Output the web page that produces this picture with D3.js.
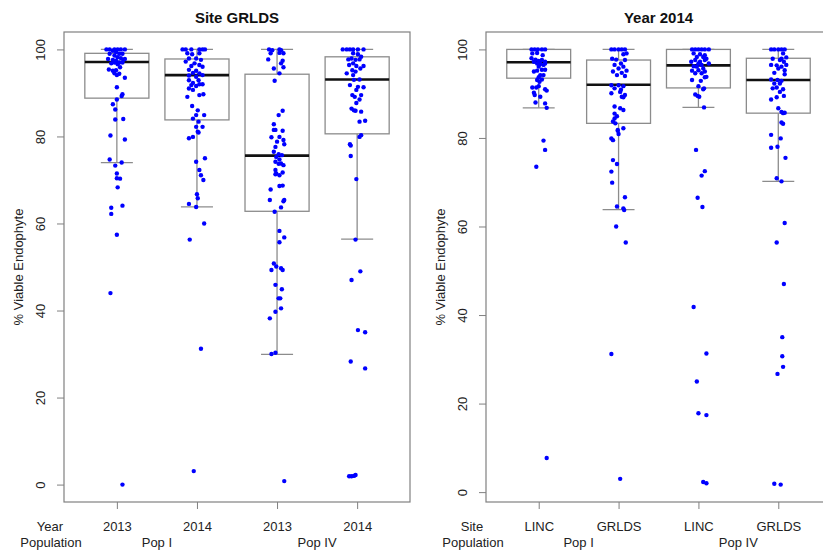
<!DOCTYPE html>
<html>
<head>
<meta charset="utf-8">
<script src="https://cdn.jsdelivr.net/npm/d3@7"></script>
<style>
  body { margin: 0; background: #fff; }
  text { font-family: "Liberation Sans", Arial, sans-serif; }
</style>
</head>
<body>
<script>
//Global variables
    const width = 823;
    const height = 554;
    const plotTop = 32;
    const plotBottom = 502;

//Data: categories and labels
    const yearLabels = ["2013", "2014", "2013", "2014"];
    const siteLabels = ["LINC", "GRLDS", "LINC", "GRLDS"];
    const popLabels = ["Pop I", "Pop IV"];
    const yTicks = [0, 20, 40, 60, 80, 100];

    //Box stats: [lower whisker, q1, median, q3, upper whisker]
    const siteGrldsStats = [
        [74.0, 88.8, 97.1, 99.1, 100],
        [63.8, 83.8, 94.1, 97.8, 100],
        [29.9, 62.8, 75.6, 94.3, 100],
        [56.4, 80.6, 93.1, 98.3, 100]
    ];
    const year2014Stats = [
        [86.8, 93.5, 97.1, 100, 100],
        [63.8, 83.3, 92.0, 97.6, 100],
        [86.9, 91.3, 96.4, 100, 100],
        [70.2, 85.6, 93.1, 98.0, 100]
    ];

    //Points: [value, jitter in category units]
    const grlds2013PopI = [[100,-0.13],[100,-0.09],[100,-0.03],[100,0.01],[100,0.05],[100,0.1],[99.7,-0.05],[99.4,-0.01],[99,-0.09],[99,0.03],[99,0.07],[98.6,-0.03],[98.2,0.01],[98,0.05],[97.8,-0.11],[97.6,-0.05],[97.4,-0.01],[97.6,0.08],[97,0.03],[96.8,-0.07],[97,-0.03],[97,0.07],[96.6,0.01],[97.8,0.1],[95.9,0.04],
        [95.4,-0.1],[95.1,-0.05],[95.2,-0.01],[94.5,-0.03],[94.4,0.03],[94.1,0],[93.5,0.1],[91.3,0],[89.7,0.07],[89.3,0.06],[88.5,0],[87.4,-0.05],[86.2,-0.02],[83.9,-0.02],[84,0.08],[80.2,-0.08],[79.3,0.1],[74.7,-0.09],[73.3,-0.02],[74,0.06],[71.5,0],[70.4,0],[70.3,0.04],[68.3,0.01],[64.1,0.07],[63.6,-0.07],[62.2,-0.07],[57.4,0],[44,-0.08],[0,0.07]];
    const grlds2014PopI = [[100,-0.18],[100,-0.14],[100,-0.07],[100,0.03],[100,0.07],[100,0.1],[99.1,-0.12],[98.9,-0.06],[99.1,0.03],[97.9,-0.1],[97.9,-0.01],[97.6,0.05],[97.2,-0.14],[96.8,-0.03],[96.4,0.03],[96.2,-0.07],[96,0.07],[95.3,-0.1],[95.1,-0.01],[94.6,-0.05],[94.5,0.03],[94,-0.1],[94.1,0.07],[93.7,-0.01],[92.9,-0.1],[92.9,0.02],[92.3,-0.05],[92,0.03],[91.8,-0.07],[91.6,-0.01],[92,0.07],[91,-0.1],[90.7,-0.05],[89.1,-0.12],[89.5,0.03],[89.7,0.08],
        [87,-0.06],[86,0.01],[84.9,-0.01],[84.9,0.09],[84.1,-0.05],[83.4,0.02],[82.2,-0.01],[82.2,0.07],[81.1,0.01],[79.6,-0.1],[79.9,-0.05],[80.9,0.02],[74.2,-0.01],[75,0.1],[72.3,0.03],[71.1,0.05],[70,0.08],[66.7,0],[65.8,0.01],[63.8,-0.01],[64.5,-0.1],[60,0.09],[56.3,-0.09],[31.2,0.05],[3.1,-0.04]];
    const grlds2013PopIV = [[100,-0.1],[99.8,-0.06],[100,0.03],[99.8,0.05],[99.1,-0.08],[99.2,0.03],[99.1,0.08],[97.7,-0.11],[97.4,0.07],[96.8,0.05],[95.6,-0.04],[95.9,0.08],[94.5,0.03],[92.8,-0.03],[85.9,0.07],[84.9,0.02],[82.8,-0.04],[81.5,-0.02],[81.3,0.07],[81.5,-0.04],[79.8,-0.07],[79.9,0.03],[79.2,0.08],[78.8,0],[77.6,-0.02],[78.2,0.09],[76.5,-0.04],[75.9,0.02],[75.7,0.06],[75.3,-0.01],[74.7,0.03],[74.2,-0.02],[73.8,0.05],[73.7,0.02],[73.4,0.08],[72.3,-0.02],[71.5,-0.01],[71.7,0.07],[71.1,0.03],[71.3,-0.02],
        [67.8,-0.08],[68.7,0.07],[68.6,0.03],[65.4,-0.09],[65.4,0.09],[65.1,0.08],[63.7,0.05],[62.7,-0.03],[58.3,0.03],[56.8,0.09],[55.7,0.03],[50.8,-0.04],[50.1,-0.01],[49.7,0.05],[49.3,-0.07],[49.3,0.07],[45.9,-0.02],[44.9,0.06],[42.8,0.02],[42.8,0.04],[39.7,-0.02],[40.5,0.05],[38.2,-0.09],[30.3,-0.02],[30,-0.07],[0.8,0.09]];
    const grlds2014PopIV = [[100,-0.18],[100,-0.13],[100,-0.09],[100,-0.05],[100,0.01],[100,0.08],[99.1,-0.05],[98.9,0.01],[98.3,0.05],[97.9,-0.07],[97.7,-0.11],[97.6,-0.02],[97.7,0.03],[96.8,-0.05],[96.4,-0.1],[96.2,-0.01],[96.2,0.08],[95.6,0.04],[95.2,-0.06],[94.9,-0.02],[94.5,-0.13],[94.1,-0.05],[93.1,0.03],[93,-0.04],[91.8,-0.09],[91.4,0.01],[91.3,0.08],[90.7,-0.01],[89.5,-0.06],[89.5,0.05],[89.1,-0.03],[88.5,0.03],[87.7,-0.01],
        [86.4,-0.07],[86,-0.04],[85.9,-0.02],[85.7,0.05],[83.4,0.03],[83.6,0.1],[80.3,0.05],[79.9,0.03],[78.2,-0.09],[77.9,-0.08],[75.5,-0.08],[70.2,-0.01],[56.3,-0.02],[49,0.04],[47,-0.07],[35.5,0.01],[35,0.1],[28.3,-0.08],[26.7,0.1],[1.9,-0.1],[1.9,-0.07],[2,-0.04],[2.2,-0.02]];

    const linc2014PopI = [[100,-0.09],[100,-0.05],[100,-0.01],[100,0.04],[100,0.08],[99.1,-0.08],[99.2,-0.02],[98.7,0.05],[98,-0.09],[97.7,-0.04],[97.4,0],[97.6,0.04],[97.2,0.08],[97.2,-0.06],[96.8,-0.02],[96.7,0.02],[96.5,0.06],[96.8,0.08],[96.1,0],[95.4,0.04],[95.2,-0.02],[95,-0.06],[95.4,0.08],[94.2,0.02],[94.2,0.06],[93.7,0],[93.1,-0.02],[93.2,0.04],[92.7,0.01],
        [91.4,-0.08],[91.4,-0.03],[91.7,0],[91,0.08],[90.7,0.1],[90.2,-0.06],[89.7,-0.05],[89.3,0.02],[88,-0.04],[87.8,0.08],[86.8,0.1],[79.4,0.06],[77.3,0.08],[73.5,-0.03],[7.7,0.1]];
    const grlds2014PopIb = [[100,-0.09],[100,-0.05],[100,0],[100,0.04],[100,0.08],[99.1,0.1],[98.9,0.06],[97.9,-0.08],[97.7,-0.03],[97.6,0.08],[96.8,0.03],[96.5,-0.05],[96.1,0.06],[95.7,0],[95.2,0.1],[95,-0.07],[94.7,0.04],[94.2,-0.02],[94,0.08],[91.9,-0.09],[91.9,0],[91.7,0.06],[91.2,-0.05],[90.9,0.03],[90.4,0.02],[90.1,-0.09],[89.7,0.08],[89.3,0.04],[89.2,0.06],
        [87.1,-0.05],[86.7,0.02],[86.3,0.06],[85.5,-0.05],[84.9,-0.02],[84.4,-0.05],[83.7,-0.07],[83.3,-0.04],[82.2,0.06],[81.8,-0.01],[81.6,-0.01],[80.9,0],[79.9,-0.09],[79.5,-0.07],[75,-0.07],[74.1,-0.02],[72.4,-0.09],[69.9,-0.08],[66.6,0.08],[64.5,-0.02],[64.1,0.06],[63.7,0.07],[60,-0.03],[56.4,0.09],[31.2,-0.09],[3,0.02]];
    const linc2014PopIV = [[100,-0.08],[100,-0.04],[100,0],[100,0.04],[100,0.08],[100,0.13],[99.1,-0.06],[98.9,0.02],[98.7,0.08],[98.3,-0.02],[98.3,0.06],[97.9,0.1],[97.6,-0.04],[97.2,-0.09],[97.2,0.02],[97.6,0.08],[96.8,0],[96.5,0.04],[96.2,-0.06],[96.8,0.13],[96.1,-0.02],[95.7,0.06],[95.2,-0.08],[95.3,0],[95,0.08],[94.6,-0.04],[94.6,0.04],[93.8,0.1],[93.1,-0.08],[92.9,0.03],[93.7,0.08],
        [91.7,0],[91.2,0.07],[91,0.06],[89.8,-0.04],[89.5,-0.01],[89.3,0.01],[86.9,0.07],[77.3,-0.03],[72.5,0.08],[71.5,0.04],[66.5,-0.01],[64.4,0.05],[41.8,-0.06],[31.3,0.1],[25,-0.02],[17.8,0],[17.4,0.1],[2.3,0.06],[2,0.1]];
    const grlds2014PopIVb = [[100,-0.09],[100,-0.05],[100,0],[100,0.04],[100,0.08],[99.1,0.06],[97.9,-0.07],[97.9,0.04],[98.2,0.1],[97.6,0.02],[97.2,0.07],[96.5,-0.09],[96.4,-0.02],[96.1,0.04],[96.5,0.1],[95.7,0],[95.3,0.08],[94.7,-0.05],[94.4,0.08],[93.2,-0.09],[93.1,-0.01],[92.9,0.04],[92.3,-0.05],[92.3,0.02],[91.2,-0.07],[91.4,-0.02],[91,0.06],[90.4,0.02],
        [88.7,-0.09],[89.2,-0.02],[89.5,0.07],[86.7,0],[85.9,0.04],[85.7,0.08],[85.6,0.06],[83.5,0.04],[83.2,0.06],[80.7,-0.09],[79.9,0.03],[77.8,-0.09],[78,-0.01],[75.5,0.09],[70.9,-0.02],[70.2,0.04],[60.8,0.08],[56.4,-0.02],[47,0.07],[35,0.05],[30.7,0.05],[28.3,0.06],[26.7,-0.01],[1.9,-0.05],[1.7,0.03]];


//SVG element
    const svg = d3.select("body")
                .append("svg")
                .attr("width", width)
                .attr("height", height);


//Draw one boxplot panel
    function drawPanel(opt) {
        const n = opt.categories.length;

        //R style limits: data range plus 4% each side
        const allValues = opt.points.flat().map(p => p[0]).concat(opt.stats.flat());
        const yMin = d3.min(allValues), yMax = d3.max(allValues);
        const yPad = (yMax - yMin) * 0.04;
        const xPad = n * 0.04;

        const xScale = d3.scaleLinear()
                        .domain([0.5 - xPad, n + 0.5 + xPad])
                        .range([opt.left, opt.right]);

        const yScale = d3.scaleLinear()
                        .domain([yMin - yPad, yMax + yPad])
                        .range([plotBottom, plotTop]);

        const g = svg.append("g");
        const boxW = xScale(0.4) - xScale(0);
        const capW = xScale(0.2) - xScale(0);

        //Boxes
        const box = g.selectAll(".box")
            .data(opt.stats)
            .enter()
            .append("g");

        box.append("line")
            .attr("x1", (d, i) => xScale(i + 1))
            .attr("x2", (d, i) => xScale(i + 1))
            .attr("y1", d => yScale(d[0]))
            .attr("y2", d => yScale(d[1]))
            .attr("stroke", "#8c8c8c").attr("stroke-width", 1.3);

        box.append("line")
            .attr("x1", (d, i) => xScale(i + 1))
            .attr("x2", (d, i) => xScale(i + 1))
            .attr("y1", d => yScale(d[3]))
            .attr("y2", d => yScale(d[4]))
            .attr("stroke", "#8c8c8c").attr("stroke-width", 1.3);

        box.append("line")
            .attr("x1", (d, i) => xScale(i + 1) - capW)
            .attr("x2", (d, i) => xScale(i + 1) + capW)
            .attr("y1", d => yScale(d[0]))
            .attr("y2", d => yScale(d[0]))
            .attr("stroke", "#8c8c8c").attr("stroke-width", 1.3);

        box.append("line")
            .attr("x1", (d, i) => xScale(i + 1) - capW)
            .attr("x2", (d, i) => xScale(i + 1) + capW)
            .attr("y1", d => yScale(d[4]))
            .attr("y2", d => yScale(d[4]))
            .attr("stroke", "#8c8c8c").attr("stroke-width", 1.3);

        box.append("rect")
            .attr("x", (d, i) => xScale(i + 1) - boxW)
            .attr("y", d => yScale(d[3]))
            .attr("width", boxW * 2)
            .attr("height", d => yScale(d[1]) - yScale(d[3]))
            .attr("fill", "none")
            .attr("stroke", "#8c8c8c").attr("stroke-width", 1.3);

        box.append("line")
            .attr("x1", (d, i) => xScale(i + 1) - boxW)
            .attr("x2", (d, i) => xScale(i + 1) + boxW)
            .attr("y1", d => yScale(d[2]))
            .attr("y2", d => yScale(d[2]))
            .attr("stroke", "#111").attr("stroke-width", 2.6);

        //Jittered points
        opt.points.forEach((pts, i) => {
            g.selectAll(null)
                .data(pts)
                .enter()
                .append("circle")
                .attr("cx", d => xScale(i + 1 + d[1]))
                .attr("cy", d => yScale(d[0]))
                .attr("r", 2.2)
                .attr("fill", "#0000ff");
        });

        //Frame
        g.append("rect")
            .attr("x", opt.left)
            .attr("y", plotTop)
            .attr("width", opt.right - opt.left)
            .attr("height", plotBottom - plotTop)
            .attr("fill", "none")
            .attr("stroke", "#808080").attr("stroke-width", 1.2);

        //Axes
        const leftAxis = d3.axisLeft(yScale).tickValues(yTicks).tickSize(7);
        const yAxisG = g.append("g")
            .attr("transform", "translate(" + opt.left + ",0)")
            .call(leftAxis);
        yAxisG.select(".domain").remove();
        yAxisG.selectAll("line").attr("stroke", "#808080");
        yAxisG.selectAll("text")
            .attr("transform", "rotate(-90)")
            .attr("x", 0).attr("y", -19).attr("dy", 0)
            .attr("text-anchor", "middle")
            .attr("fill", "#222")
            .style("font-size", "13px");

        const bottomAxis = d3.axisBottom(xScale)
            .tickValues(d3.range(1, n + 1))
            .tickFormat(d => opt.categories[d - 1])
            .tickSize(7);
        const xAxisG = g.append("g")
            .attr("transform", "translate(0," + plotBottom + ")")
            .call(bottomAxis);
        xAxisG.select(".domain").remove();
        xAxisG.selectAll("line").attr("stroke", "#808080");
        xAxisG.selectAll("text")
            .attr("y", 28.5).attr("dy", 0)
            .attr("fill", "#222")
            .style("font-size", "13px");

        //Population row
        g.selectAll(".pop")
            .data(popLabels)
            .enter()
            .append("text")
            .attr("x", (d, i) => xScale(i * 2 + 1.5))
            .attr("y", 547)
            .attr("text-anchor", "middle")
            .attr("fill", "#222")
            .style("font-size", "13px")
            .text(d => d);

        //Row labels
        g.append("text")
            .attr("x", opt.left - 14).attr("y", 530.5)
            .attr("text-anchor", "middle").attr("fill", "#222")
            .style("font-size", "13px")
            .text(opt.rowLabel);
        g.append("text")
            .attr("x", opt.left - 13).attr("y", 547)
            .attr("text-anchor", "middle").attr("fill", "#222")
            .style("font-size", "13px")
            .text("Population");

        //Title and y label
        g.append("text")
            .attr("x", (opt.left + opt.right) / 2).attr("y", 23)
            .attr("text-anchor", "middle").attr("fill", "#111")
            .style("font-size", "15px").style("font-weight", "bold")
            .text(opt.title);
        g.append("text")
            .attr("transform", "translate(" + (opt.left - 41) + "," + ((plotTop + plotBottom) / 2) + ") rotate(-90)")
            .attr("text-anchor", "middle").attr("fill", "#222")
            .style("font-size", "13px")
            .text("% Viable Endophyte");
    }

    drawPanel({
        left: 64, right: 410,
        title: "Site GRLDS", rowLabel: "Year",
        categories: yearLabels,
        stats: siteGrldsStats,
        points: [grlds2013PopI, grlds2014PopI, grlds2013PopIV, grlds2014PopIV]
    });

    drawPanel({
        left: 486, right: 831,
        title: "Year 2014", rowLabel: "Site",
        categories: siteLabels,
        stats: year2014Stats,
        points: [linc2014PopI, grlds2014PopIb, linc2014PopIV, grlds2014PopIVb]
    });
</script>
</body>
</html>
